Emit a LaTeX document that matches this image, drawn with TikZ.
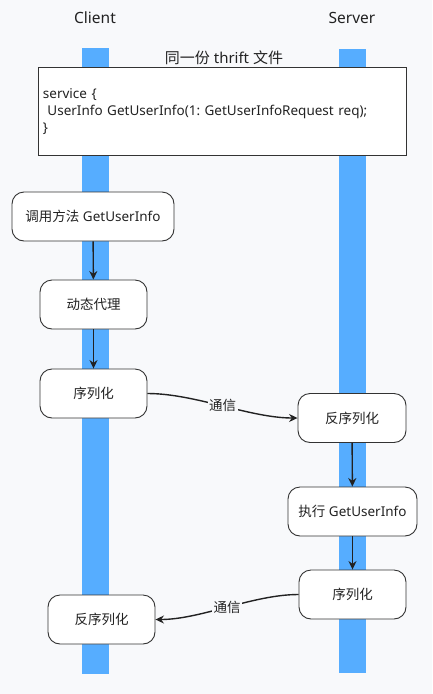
\documentclass[tikz,border=0pt]{standalone}
\usepackage{fontspec}
\setmainfont{Noto Sans}
\newfontfamily\cjk{Noto Sans CJK SC}
\usetikzlibrary{arrows.meta}
\frenchspacing
\definecolor{bg}{HTML}{F8F9FB}
\definecolor{lane}{HTML}{56ADFF}
\definecolor{edge}{HTML}{333333}
\definecolor{ink}{HTML}{222222}
\tikzset{
  stepbox/.style={draw=edge, line width=0.9pt, fill=white, rounded corners=12pt,
    minimum height=49pt, inner sep=0pt, font=\fontsize{13.5}{16}\selectfont, text=ink},
  flow/.style={draw=ink, line width=1.4pt, -{Stealth[length=8.5pt,width=8pt]}},
  lanebar/.style={fill=lane, draw=none},
  head/.style={font=\fontsize{15.5}{18}\selectfont, text=ink},
  lbl/.style={fill=bg, inner sep=1.5pt, font=\cjk\fontsize{13.5}{16}\selectfont, text=ink}
}
\begin{document}
\begin{tikzpicture}[x=1pt,y=-1pt]
\fill[bg] (0,0) rectangle (432,694);
\useasboundingbox (0,0) rectangle (432,694);
% lanes
\fill[lanebar] (82,48) rectangle (109,674);
\fill[lanebar] (339,49) rectangle (366,673);
\node[head] (client) at (95,18) {Client};
\node[head] (server) at (352,18) {Server};
\node[font=\fontsize{15}{18}\selectfont, text=ink] (title) at (224,58) {{\cjk 同一份} thrift {\cjk 文件}};
\node[draw=edge, line width=0.9pt, fill=white, minimum width=368pt, minimum height=88pt,
  text width=359pt, align=left, inner xsep=4.5pt, font=\fontsize{13.5}{17}\selectfont, text=ink,
  anchor=north west] (code) at (38,67)
  {service \{\\\ UserInfo GetUserInfo(1: GetUserInfoRequest req);\\\}};
% client
\node[stepbox, minimum width=162pt] (call) at (93,216.5) {{\cjk 调用方法} GetUserInfo};
\node[stepbox, minimum width=107pt] (proxy) at (93.5,304.5) {\cjk 动态代理};
\node[stepbox, minimum width=107pt] (ser1) at (93.5,393.5) {\cjk 序列化};
% server
\node[stepbox, minimum width=108pt] (deser1) at (352,418) {\cjk 反序列化};
\node[stepbox, minimum width=129pt] (exec) at (352.5,511.5) {{\cjk 执行} GetUserInfo};
\node[stepbox, minimum width=107pt] (ser2) at (352.5,594.5) {\cjk 序列化};
\node[stepbox, minimum width=107pt] (deser2) at (101.5,619.5) {\cjk 反序列化};
% arrows
\draw[flow] (call) -- (proxy);
\draw[flow] (proxy) -- (ser1);
\draw[flow] (ser1.east) to[out=0,in=180,looseness=0.8] node[lbl]{通信} (deser1.west);
\draw[flow] (deser1) -- (exec);
\draw[flow] (exec) -- (ser2);
\draw[flow] (ser2.west) to[out=180,in=0,looseness=0.8] node[lbl]{通信} (deser2.east);
\end{tikzpicture}
\end{document}
